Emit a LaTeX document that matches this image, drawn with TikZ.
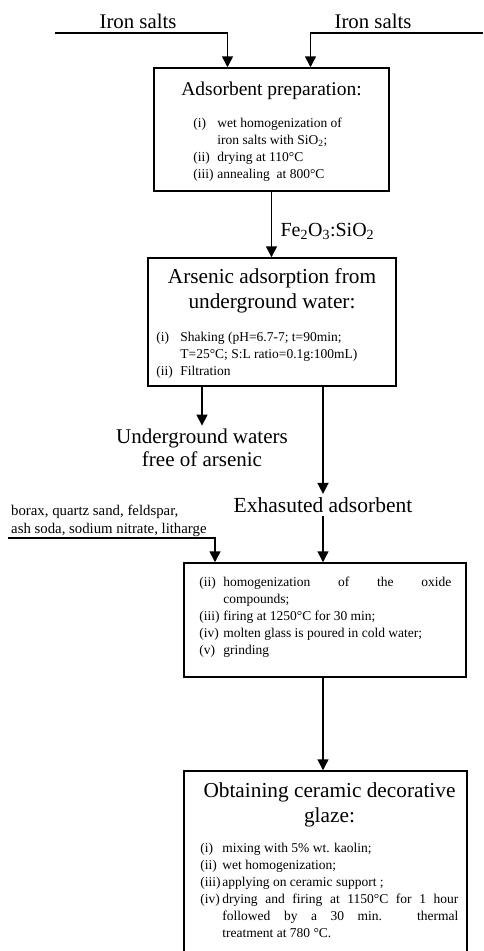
\documentclass[tikz,border=0pt]{standalone}
\usepackage{fontspec}
\setmainfont{Liberation Serif}
\usetikzlibrary{positioning, arrows.meta}
\tikzset{
flow/.style={-{Triangle[width=11pt,length=11pt]}, line width=1.5pt}, % arrows between the stages
stage/.style={draw, line width=1.5pt, rectangle, inner sep=0pt}, % box of one stage
title/.style={font=\fontsize{21.3}{25}\selectfont, align=center}, % heading inside a box
big/.style={font=\fontsize{21}{23}\selectfont, align=center}, % products and inputs
steps/.style={font=\fontsize{13.5}{17}\selectfont, align=left, inner sep=0pt}, % numbered operations
}
% numbered list: label column, then the text
\newcommand{\steplist}[2][24pt]{\begin{tabular}{@{}p{#1}@{}l@{}}#2\end{tabular}}

\begin{document}
\begin{tikzpicture}[x=1pt, y=-1pt]
    \useasboundingbox (0,0) rectangle (483,951);
    \clip (0,0) rectangle (483,951);

    % stages
    \node[stage, minimum width=235pt, minimum height=123pt] (prep) at (271.5,129.5) {};
    \node[stage, minimum width=248pt, minimum height=128pt] (adsorb) at (272,322) {};
    \node[stage, minimum width=282pt, minimum height=114pt] (glass) at (325,620) {};
    \node[stage, minimum width=283pt, minimum height=190pt] (glaze) at (325.5,866) {};

    \node[title, font=\fontsize{19.5}{24}\selectfont] (prepT) at ([yshift=-24pt]prep.north) {Adsorbent preparation:};
    \node[steps, below right=48pt and 40pt of prep.north west] (prepS) {\steplist{
        (i) & wet homogenization of\\
            & iron salts with SiO\textsubscript{2};\\
        (ii) & drying at 110°C\\
        (iii) & annealing\ \ at 800°C}};

    \node[title] (adsorbT) at ([yshift=-34pt]adsorb.north) {Arsenic adsorption from\\underground water:};
    \node[steps, below right=72pt and 9pt of adsorb.north west] (adsorbS) {\steplist{
        (i) & Shaking (pH=6.7-7; t=90min;\\
            & T=25°C; S:L ratio=0.1g:100mL)\\
        (ii) & Filtration}};

    \node[steps, below right=12pt and 16pt of glass.north west] (glassS) {\steplist{
        (ii) & \makebox[228pt][s]{homogenization of the oxide}\\
             & compounds;\\
        (iii) & firing at 1250°C for 30 min;\\
        (iv) & molten glass is poured in cold water;\\
        (v) & grinding}};

    \node[title] (glazeT) at ([yshift=-35pt,xshift=4pt]glaze.north) {Obtaining ceramic decorative\\glaze:};
    \node[steps, below right=70pt and 17pt of glaze.north west] (glazeS) {\steplist[22pt]{
        (i) & mixing with 5\% wt. kaolin;\\
        (ii) & wet homogenization;\\
        (iii) & applying on ceramic support ;\\
        (iv) & \makebox[236pt][s]{drying and firing at 1150°C for 1 hour}\\
             & \makebox[236pt][s]{followed by a 30 min. thermal}\\
             & treatment at 780 °C.}};

    % iron salts fed from both sides
    \coordinate (ironInL) at (55,33);
    \coordinate (ironInR) at (483,33);
    \node[big, font=\fontsize{20.8}{23}\selectfont] (ironL) at (138,21) {Iron salts};
    \node[big, font=\fontsize{20.8}{23}\selectfont] (ironR) at (373,21) {Iron salts};
    \draw[flow] (ironInL) -| ([xshift=-44pt]prep.north);
    \draw[flow] (ironInR) -| ([xshift=39pt]prep.north);

    \draw[flow] (prep.south) -- (prep.south |- adsorb.north)
        node[big, font=\fontsize{20}{23}\selectfont, right=5pt, pos=0.6] (oxide) {Fe\textsubscript{2}O\textsubscript{3}:SiO\textsubscript{2}};

    % products of the adsorption
    \node[big] (clean) at (202,448) {Underground waters\\free of arsenic};
    \node[big, font=\fontsize{21.5}{23}\selectfont] (spent) at (323,505) {Exhasuted adsorbent};
    \draw[flow] ([xshift=-70pt]adsorb.south) -- (clean.north);
    \draw[flow] ([xshift=51pt]adsorb.south) -- (spent.north);
    \draw[flow] (spent.south) -- (spent.south |- glass.north);

    % glass raw materials
    \coordinate (feedIn) at (8,538);
    \node[steps, font=\fontsize{14.8}{18}\selectfont, above right=1pt and 3pt of feedIn] (feed)
        {borax, quartz sand, feldspar,\\ash soda, sodium nitrate, litharge};
    \draw[flow] (feedIn) -| ([xshift=-110pt]glass.north);

    \draw[flow] (glass.south -| spent.south) -- (glaze.north -| spent.south);
\end{tikzpicture}
\end{document}
